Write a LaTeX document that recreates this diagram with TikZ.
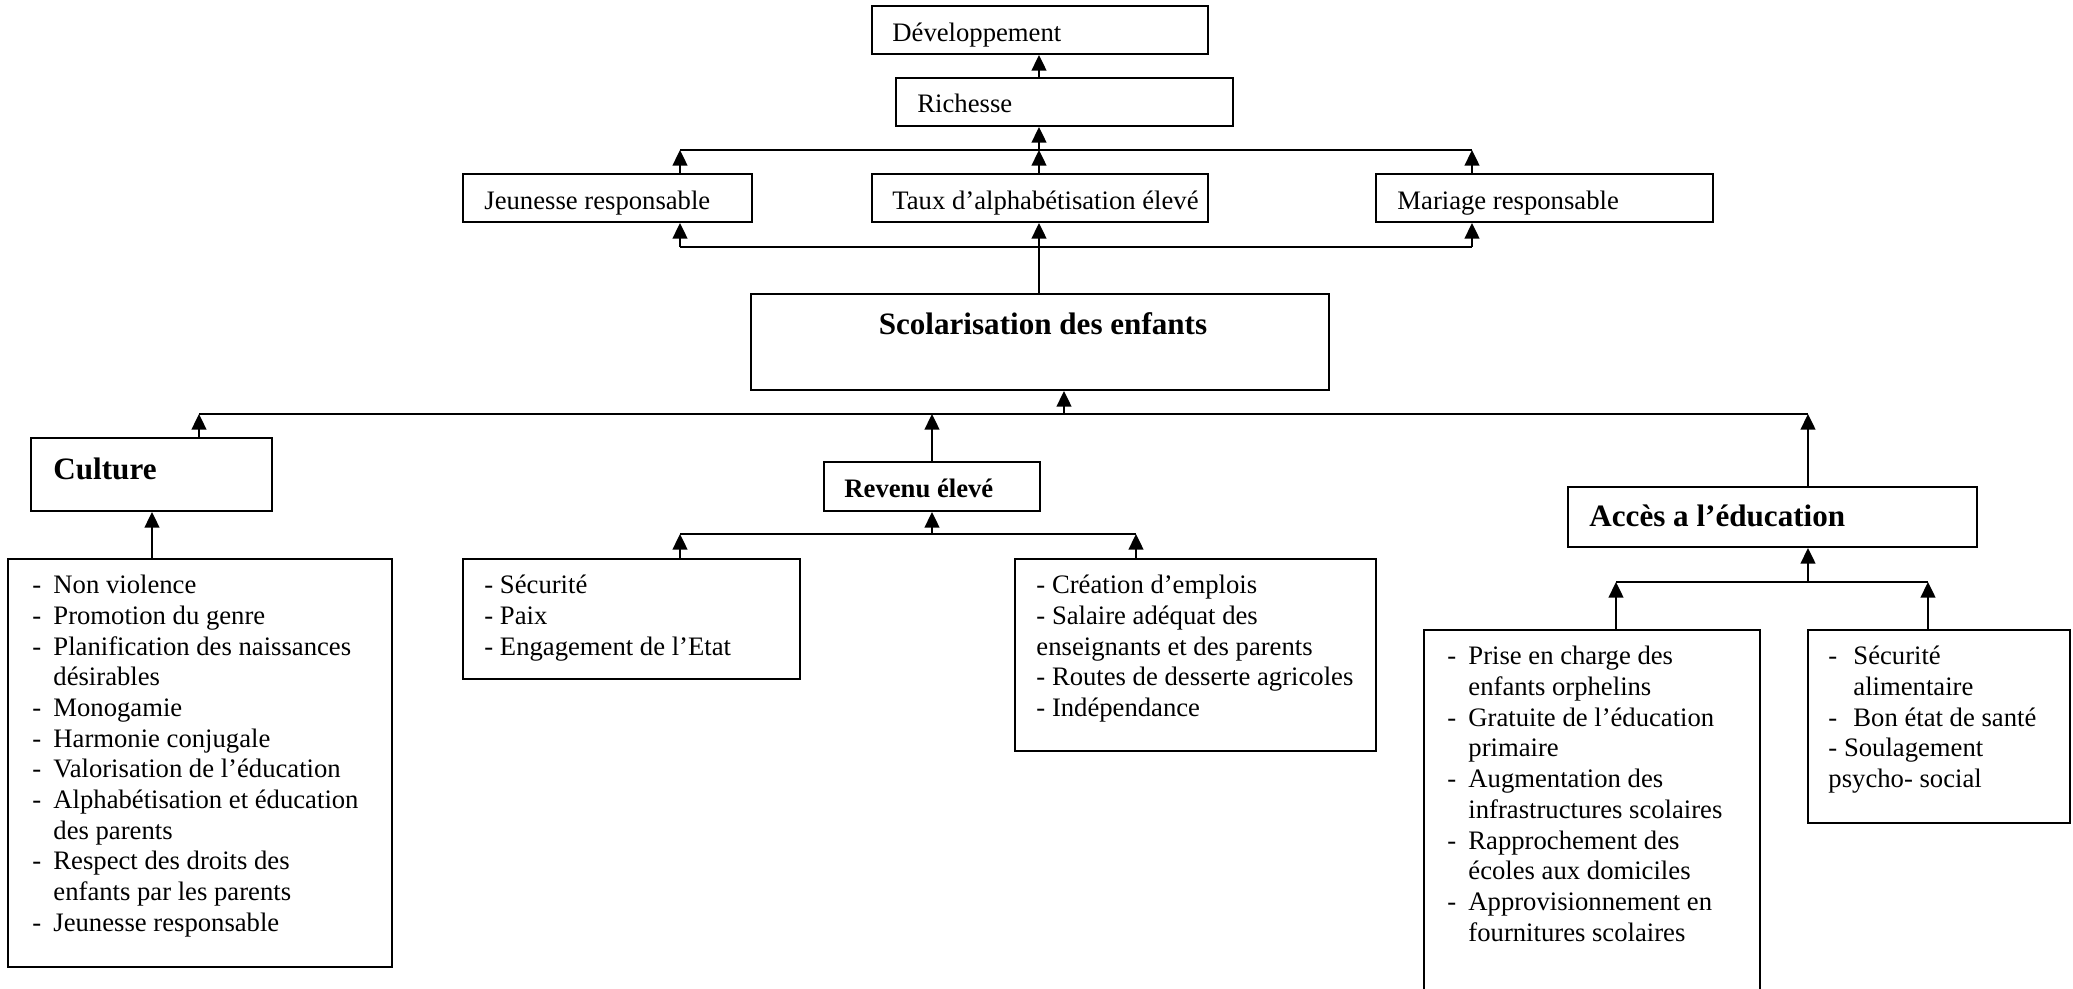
\documentclass[tikz,border=0pt]{standalone}
\usepackage{fontspec}
\setmainfont{Liberation Serif}
\usetikzlibrary{arrows.meta,fit}
\newcommand{\lstdash}[1]{\makebox[9.45pt][l]{-}#1}
\newcommand{\lstcont}[1]{\hspace*{9.45pt}#1}
\newcommand{\lstdashw}[1]{\makebox[11.25pt][l]{-}#1}
\newcommand{\lstcontw}[1]{\hspace*{11.25pt}#1}
\begin{document}
\begin{tikzpicture}[x=0.45pt,y=-0.45pt,
  box/.style={draw, line width=0.9pt, inner sep=0pt},
  txt/.style={anchor=base west, inner sep=0pt, font=\fontsize{12}{13.8}\selectfont},
  btxt/.style={anchor=base west, inner sep=0pt, font=\fontsize{14}{16}\selectfont\bfseries},
  bstxt/.style={anchor=base west, inner sep=0pt, font=\fontsize{12}{13.8}\selectfont\bfseries},
  link/.style={line width=0.9pt},
  arr/.style={line width=0.9pt, -{Triangle[width=6.6pt,length=7pt]}},
]
\path[use as bounding box, clip] (0,0) rectangle (2073,989);

% boxes
\node[box, fit={(872,6) (1208,54)}] (dev) {};
\node[box, fit={(896,78) (1233,126)}] (rich) {};
\node[box, fit={(463,174) (752,222)}] (jeu) {};
\node[box, fit={(872,174) (1208,222)}] (taux) {};
\node[box, fit={(1376,174) (1713,222)}] (mar) {};
\node[box, fit={(751,294) (1329,390)}] (scol) {};
\node[box, fit={(31,438) (272,511)}] (cult) {};
\node[box, fit={(824,462) (1040,511)}] (rev) {};
\node[box, fit={(1568,487) (1977,547)}] (acc) {};
\node[box, fit={(8,559) (392,967)}] (clist) {};
\node[box, fit={(463,559) (800,679)}] (sec) {};
\node[box, fit={(1015,559) (1376,751)}] (cre) {};
\node[box, fit={(1424,630) (1760,1010)}] (pri) {};
\node[box, fit={(1808,630) (2070,823)}] (sa) {};

% texts
\node[txt] (devt) at (892,42) {Développement};
\node[txt] (richt) at (917,113) {Richesse};
\node[txt] (jeut) at (484,210) {Jeunesse responsable};
\node[txt] (tauxt) at (892,210) {Taux d’alphabétisation élevé};
\node[txt] (mart) at (1397,210) {Mariage responsable};
\node[btxt, anchor=base] (scolt) at (1043,335) {Scolarisation des enfants};
\node[btxt] (cultt) at (53,480) {Culture};
\node[bstxt] (revt) at (844,498) {Revenu élevé};
\node[btxt] (acct) at (1589,527) {Accès a l’éducation};

\node[txt] (clistt) at (32,594) {\begin{tabular}[t]{@{}l@{}}
\lstdash{Non violence}\\
\lstdash{Promotion du genre}\\
\lstdash{Planification des naissances}\\
\lstcont{désirables}\\
\lstdash{Monogamie}\\
\lstdash{Harmonie conjugale}\\
\lstdash{Valorisation de l’éducation}\\
\lstdash{Alphabétisation et éducation}\\
\lstcont{des parents}\\
\lstdash{Respect des droits des}\\
\lstcont{enfants par les parents}\\
\lstdash{Jeunesse responsable}
\end{tabular}};

\node[txt] (sect) at (484,594) {\begin{tabular}[t]{@{}l@{}}
- Sécurité\\
- Paix\\
- Engagement de l’Etat
\end{tabular}};

\node[txt] (cret) at (1036,594) {\begin{tabular}[t]{@{}l@{}}
- Création d’emplois\\
- Salaire adéquat des\\
enseignants et des parents\\
- Routes de desserte agricoles\\
- Indépendance
\end{tabular}};

\node[txt] (prit) at (1447,665) {\begin{tabular}[t]{@{}l@{}}
\lstdash{Prise en charge des}\\
\lstcont{enfants orphelins}\\
\lstdash{Gratuite de l’éducation}\\
\lstcont{primaire}\\
\lstdash{Augmentation des}\\
\lstcont{infrastructures scolaires}\\
\lstdash{Rapprochement des}\\
\lstcont{écoles aux domiciles}\\
\lstdash{Approvisionnement en}\\
\lstcont{fournitures scolaires}
\end{tabular}};

\node[txt] (sat) at (1828,665) {\begin{tabular}[t]{@{}l@{}}
\lstdashw{Sécurité}\\
\lstcontw{alimentaire}\\
\lstdashw{Bon état de santé}\\
- Soulagement\\
psycho- social
\end{tabular}};

% junction coordinates
\coordinate (t1) at (680,150);
\coordinate (t2) at (1039,150);
\coordinate (t3) at (1472,150);
\coordinate (b1) at (680,247);
\coordinate (b2) at (1039,247);
\coordinate (b3) at (1472,247);
\coordinate (m1) at (199,414);
\coordinate (m2) at (932,414);
\coordinate (m3) at (1064,414);
\coordinate (m4) at (1808,414);
\coordinate (k1) at (152,534);
\coordinate (r1) at (680,534);
\coordinate (r2) at (932,534);
\coordinate (r3) at (1136,534);
\coordinate (a1) at (1616,582);
\coordinate (a2) at (1808,582);
\coordinate (a3) at (1928,582);

% connectors
\draw[arr] (rich.north -| t2) -- (dev.south -| t2);
\draw[link] (t1) -- (t3);
\draw[arr] (jeu.north -| t1) -- (t1);
\draw[arr] (taux.north -| t2) -- (t2);
\draw[arr] (mar.north -| t3) -- (t3);
\draw[arr] (t2) -- (rich.south -| t2);

\draw[link] (b1) -- (b3);
\draw[link] (scol.north -| b2) -- (b2);
\draw[arr] (b1) -- (jeu.south -| b1);
\draw[arr] (b2) -- (taux.south -| b2);
\draw[arr] (b3) -- (mar.south -| b3);

\draw[link] (m1) -- (m4);
\draw[arr] (cult.north -| m1) -- (m1);
\draw[arr] (rev.north -| m2) -- (m2);
\draw[arr] (acc.north -| m4) -- (m4);
\draw[arr] (m3) -- (scol.south -| m3);

\draw[arr] (clist.north -| k1) -- (cult.south -| k1);

\draw[link] (r1) -- (r3);
\draw[arr] (sec.north -| r1) -- (r1);
\draw[arr] (cre.north -| r3) -- (r3);
\draw[arr] (r2) -- (rev.south -| r2);

\draw[link] (a1) -- (a3);
\draw[arr] (pri.north -| a1) -- (a1);
\draw[arr] (sa.north -| a3) -- (a3);
\draw[arr] (a2) -- (acc.south -| a2);
\end{tikzpicture}
\end{document}
